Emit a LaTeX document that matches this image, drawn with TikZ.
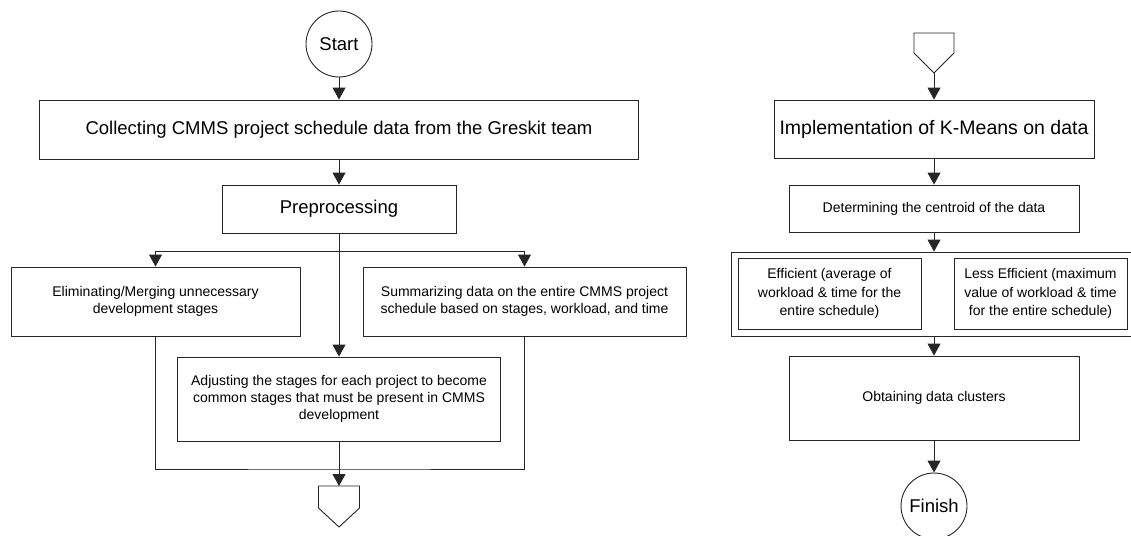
\documentclass[tikz,border=0pt]{standalone}
\usepackage{fontspec}
\setmainfont{Liberation Sans}
\usetikzlibrary{arrows.meta,calc}
\begin{document}
\begin{tikzpicture}[x=1pt,y=-1pt,
  ln/.style={draw=black!85,line width=0.9pt},
  box/.style={ln,rectangle,inner sep=0pt,align=center,fill=white},
  big/.style={font=\fontsize{18.5}{21}\selectfont},
  small/.style={font=\fontsize{14}{16.7}\selectfont},
  arr/.style={ln,-{Triangle[length=12pt,width=13pt]}},
  term/.style={ln,circle,inner sep=0pt,minimum size=66pt,font=\fontsize{18.5}{21}\selectfont}]
\useasboundingbox (0,0) rectangle (1131,535);
\clip (0,0) rectangle (1131,535);
% ---------- left column ----------
\node[term] (start) at (339,44) {Start};
\node[box,big,minimum width=599pt,minimum height=59pt] (collect) at (339,129.5)
  {Collecting CMMS project schedule data from the Greskit team};
\node[box,big,minimum width=234pt,minimum height=48pt] (prep) at (339,209) {Preprocessing};
\node[box,small,minimum width=289pt,minimum height=69pt] (elim) at (155.5,301.5)
  {Eliminating/Merging unnecessary\\development stages};
\node[box,small,minimum width=323pt,minimum height=69pt] (summ) at (524.5,301.5)
  {Summarizing data on the entire CMMS project\\schedule based on stages, workload, and time};
\node[box,small,minimum width=323pt,minimum height=84pt] (adjust) at (339,399)
  {Adjusting the stages for each project to become\\common stages that must be present in CMMS\\development};
\coordinate (j) at (339,251);
\coordinate (fb) at (339,469);
\coordinate (op1) at (339,486);
\draw[ln,fill=white] (op1) -- ++(20.5,0) -- ++(0,22) -- ++(-20.5,19) -- ++(-20.5,-19) -- ++(0,-22) -- cycle;
\draw[arr] (start) -- (collect);
\draw[arr] (collect) -- (prep);
\draw[arr] (prep) -- (adjust);
\draw[arr] (j) -| (elim.north);
\draw[arr] (j) -| (summ.north);
\draw[ln] (elim.south) |- (fb) -| (summ.south);
\draw[arr] (adjust.south) -- (op1);
% ---------- right column ----------
\coordinate (op2) at (934,33);
\draw[ln,fill=white] (op2) -- ++(20,0) -- ++(0,20) -- ++(-20,20) -- ++(-20,-20) -- ++(0,-20) -- cycle;
\coordinate (op2tip) at (934,73);
\node[box,font=\fontsize{19.5}{22}\selectfont,minimum width=320pt,minimum height=58pt] (kmeans) at (934,129)
  {Implementation of K-Means on data};
\node[box,small,minimum width=290pt,minimum height=47pt] (determ) at (934,208.5)
  {Determining the centroid of the data};
\node[box,minimum width=410pt,minimum height=84pt] (outer) at (936,294) {};
\node[box,font=\fontsize{14}{18.3}\selectfont,minimum width=183pt,minimum height=71pt] (eff) at (829.5,293.5)
  {Efficient (average of\\workload \& time for the\\entire schedule)};
\node[box,font=\fontsize{14}{18.3}\selectfont,minimum width=173pt,minimum height=71pt] (less) at (1040.5,293.5)
  {Less Efficient (maximum\\value of workload \& time\\for the entire schedule)};
\node[box,small,minimum width=290pt,minimum height=84pt] (obtain) at (934,398)
  {Obtaining data clusters};
\node[term] (finish) at (934,506) {Finish};
\draw[arr] (op2tip) -- (kmeans);
\draw[arr] (kmeans) -- (determ);
\draw[arr] (determ.south) -- (determ.south |- outer.north);
\draw[arr] (obtain.north |- outer.south) -- (obtain.north);
\draw[arr] (obtain) -- (finish);
\end{tikzpicture}
\end{document}
